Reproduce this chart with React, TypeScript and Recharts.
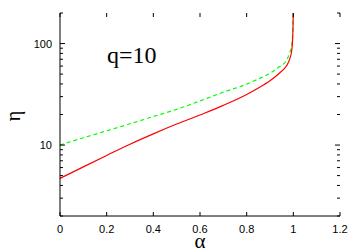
import React from 'react';
import { LineChart, Line, XAxis, YAxis } from 'recharts';

const alpha = [0, 0.1, 0.2, 0.3, 0.4, 0.5, 0.6, 0.7, 0.8, 0.85, 0.9, 0.94, 0.97, 0.985, 0.993, 0.997, 0.999, 1.0];
const etaRed = [4.7, 6.1, 7.9, 10.2, 12.9, 16.1, 19.8, 24.6, 31.5, 36.5, 43, 51, 60, 71, 85, 110, 160, 400];
const etaGreen = [10, 11.8, 13.8, 16.2, 19.1, 22.5, 27.2, 33.2, 39.8, 44.8, 51, 59, 68, 82, 97, 125, 180, 400];

const xTicks = [0, 0.2, 0.4, 0.6, 0.8, 1, 1.2];
const yTicks = [2, 3, 4, 5, 6, 7, 8, 9, 10, 20, 30, 40, 50, 60, 70, 80, 90, 100, 200];
const yMajor = [10, 100];

const data = alpha.map((a, i) => ({ alpha: a, red: etaRed[i], green: etaGreen[i] }));

const PLOT_W = 280;
const PLOT_H = 203;
const tickFont = '"Liberation Sans", Arial, sans-serif';
const serif = '"Liberation Serif", "DejaVu Serif", serif';

const XTick = (props: any) => {
  const { x, y, payload } = props;
  return (
    <g>
      <line x1={x} y1={y} x2={x} y2={y - 4} stroke="#000" />
      <line x1={x} y1={y - PLOT_H} x2={x} y2={y - PLOT_H + 4} stroke="#000" />
      <text x={x} y={y + 16.5} textAnchor="middle" fontSize={11} fontFamily={tickFont} fill="#000">
        {String(payload.value)}
      </text>
    </g>
  );
};

const YTick = (props: any) => {
  const { x, y, payload } = props;
  const major = yMajor.includes(payload.value);
  const len = major ? 5 : 3;
  return (
    <g>
      <line x1={x} y1={y} x2={x + len} y2={y} stroke="#000" />
      <line x1={x + PLOT_W} y1={y} x2={x + PLOT_W - len} y2={y} stroke="#000" />
      {major && (
        <text x={x - 8} y={y + 4} textAnchor="end" fontSize={11} fontFamily={tickFont} fill="#000">
          {String(payload.value)}
        </text>
      )}
    </g>
  );
};

export default function App() {
  return (
    <div style={{ position: 'absolute', left: 0, top: 0, width: 360, height: 252, background: '#fff' }}>
      <LineChart width={360} height={252} data={data} margin={{ top: 13, right: 20, bottom: 0, left: 0 }}>
        <XAxis
          dataKey="alpha"
          type="number"
          domain={[0, 1.2]}
          ticks={xTicks}
          height={36}
          tickSize={0}
          tickMargin={0}
          tickLine={false}
          axisLine={{ stroke: '#000' }}
          tick={<XTick />}
        />
        <XAxis
          xAxisId="top"
          dataKey="alpha"
          type="number"
          orientation="top"
          domain={[0, 1.2]}
          height={0}
          tick={false}
          tickLine={false}
          axisLine={{ stroke: '#000' }}
        />
        <YAxis
          scale="log"
          type="number"
          domain={[2, 200]}
          allowDataOverflow
          ticks={yTicks}
          interval={0}
          width={60}
          tickSize={0}
          tickMargin={0}
          tickLine={false}
          axisLine={{ stroke: '#000' }}
          tick={<YTick />}
        />
        <YAxis
          yAxisId="right"
          orientation="right"
          scale="log"
          type="number"
          domain={[2, 200]}
          allowDataOverflow
          width={0}
          tick={false}
          tickLine={false}
          axisLine={{ stroke: '#000' }}
        />
        <Line
          type="monotone"
          dataKey="green"
          stroke="#00ff00"
          strokeWidth={1.2}
          strokeDasharray="4 3"
          dot={false}
          isAnimationActive={false}
        />
        <Line
          type="monotone"
          dataKey="red"
          stroke="#ff0000"
          strokeWidth={1.2}
          dot={false}
          isAnimationActive={false}
        />
      </LineChart>
      <svg width={360} height={252} style={{ position: 'absolute', left: 0, top: 0, pointerEvents: 'none' }}>
        <text x={107} y={63} fontSize={24} fontFamily={serif} fill="#000">
          q=10
        </text>
        <text x={200} y={248} textAnchor="middle" fontSize={21} fontFamily={serif} fill="#000">
          α
        </text>
        <text
          x={15}
          y={116}
          textAnchor="middle"
          dominantBaseline="middle"
          transform="rotate(-90 15 116)"
          fontSize={20}
          fontFamily={serif}
          fill="#000"
        >
          η
        </text>
      </svg>
    </div>
  );
}
